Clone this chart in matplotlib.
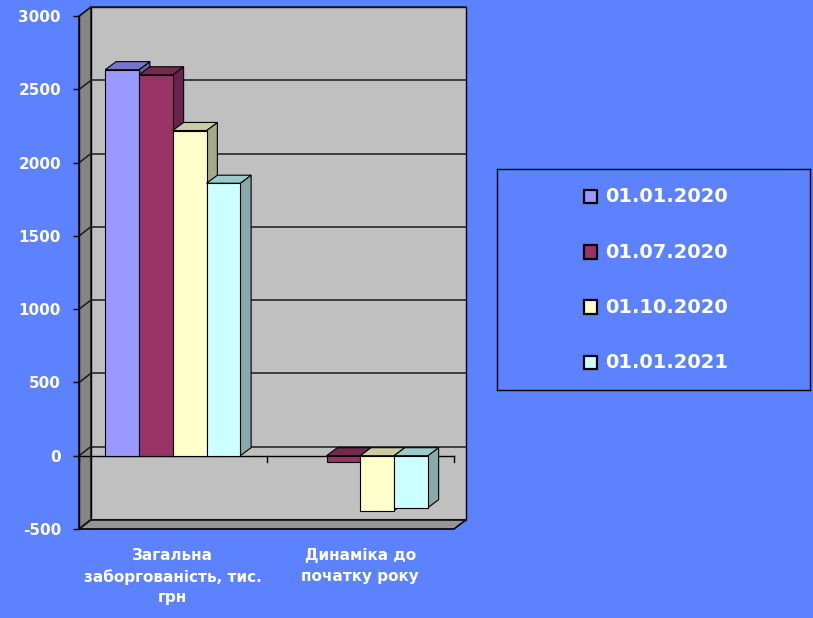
import matplotlib.pyplot as plt
from matplotlib.patches import Polygon
import numpy as np

# categories and series
categories = ['Загальна\nзаборгованість, тис.\nгрн', 'Динаміка до\nпочатку року']
dates = ['01.01.2020', '01.07.2020', '01.10.2020', '01.01.2021']
total_debt = [2635, 2600, 2220, 1860]
change_from_start = [0, -40, -375, -355]
y_ticks = [-500, 0, 500, 1000, 1500, 2000, 2500, 3000]

front_colors = ['#9999FF', '#993366', '#FFFFCC', '#CCFFFF']
top_colors = ['#7575CC', '#772850', '#CCCCA3', '#99CCCC']
side_colors = ['#6666AA', '#66224A', '#A8A88A', '#88AAAA']

bg = '#5C82FF'
plt.rcParams['font.family'] = 'DejaVu Sans'
plt.rcParams['font.weight'] = 'bold'
plt.rcParams['axes.unicode_minus'] = False

# oblique depth of the walls and of the columns, in data units
WDX, WDY = 0.064, 63
BDX, BDY = 0.058, 55
bar_w = 0.18
ymin, ymax = -500, 3000

fig = plt.figure(figsize=(8.13, 6.18), dpi=100, facecolor=bg)
W, H = 813, 618
ax = fig.add_axes([79 / W, 1 - 529 / H, 387 / W, 522.0 / H])
ax.set_facecolor('none')
ax.set_xlim(-0.5, 1.5 + WDX)
ax.set_ylim(ymin, ymax + WDY)

x0, x1 = -0.5, 1.5
# back wall, side wall, floor
ax.add_patch(Polygon([(x0 + WDX, ymin + WDY), (x1 + WDX, ymin + WDY),
                      (x1 + WDX, ymax + WDY), (x0 + WDX, ymax + WDY)],
                     closed=True, fc='#C0C0C0', ec='black', lw=1.0, zorder=0.5, clip_on=False))
ax.add_patch(Polygon([(x0, ymin), (x0, ymax), (x0 + WDX, ymax + WDY), (x0 + WDX, ymin + WDY)],
                     closed=True, fc='#858585', ec='black', lw=1.0, zorder=0.6, clip_on=False))
ax.add_patch(Polygon([(x0, ymin), (x1, ymin), (x1 + WDX, ymin + WDY), (x0 + WDX, ymin + WDY)],
                     closed=True, fc='#969696', ec='black', lw=1.2, zorder=0.7, clip_on=False))

# gridlines on back wall and side wall
for v in y_ticks:
    ax.plot([x0 + WDX, x1 + WDX], [v + WDY, v + WDY], color='#1a1a1a', lw=1.1, zorder=1, clip_on=False)
    ax.plot([x0, x0 + WDX], [v, v + WDY], color='#1a1a1a', lw=1.1, zorder=1, clip_on=False)

# category axis at zero
tick_len = 45
ax.plot([x0, x1], [0, 0], color='black', lw=1.0, zorder=1.2)
for xt in [-0.5, 0.5, 1.5]:
    ax.plot([xt, xt], [0, -tick_len], color='black', lw=1.0, zorder=1.2, clip_on=False)

series = [[total_debt[j], change_from_start[j]] for j in range(len(dates))]

z = 2.0
for ci in range(len(categories)):
    for j in range(len(dates)):
        v = series[j][ci]
        if v == 0:
            continue
        left = ci - 2 * bar_w + j * bar_w
        top = max(v, 0)
        bot = min(v, 0)
        right = left + bar_w
        ax.add_patch(Polygon([(right, bot), (right, top), (right + BDX, top + BDY), (right + BDX, bot + BDY)],
                             closed=True, fc=side_colors[j], ec='black', lw=0.8, zorder=z))
        ax.add_patch(Polygon([(left, top), (right, top), (right + BDX, top + BDY), (left + BDX, top + BDY)],
                             closed=True, fc=top_colors[j], ec='black', lw=0.8, zorder=z + 0.01))
        ax.bar(left, v, width=bar_w, align='edge', color=front_colors[j], edgecolor='black',
               lw=0.8, zorder=z + 0.02)
        z += 0.1

for s in ['top', 'right', 'bottom']:
    ax.spines[s].set_visible(False)
ax.spines['left'].set_bounds(ymin, ymax)
ax.spines['left'].set_linewidth(1.0)
ax.spines['left'].set_zorder(1.5)

ax.set_yticks(y_ticks)
ax.tick_params(axis='y', length=4.3, width=1.0, pad=8.7, labelcolor='white', labelsize=11)
ax.set_xticks([0, 1], categories)
ax.tick_params(axis='x', length=0, pad=14, labelcolor='white', labelsize=11)
for lbl in ax.get_xticklabels():
    lbl.set_linespacing(1.45)

# legend box
lax = fig.add_axes([497 / W, 1 - 390 / H, 313 / W, 221 / H])
lax.set_facecolor(bg)
lax.set_xlim(0, 313)
lax.set_ylim(221, 0)
lax.set_xticks([])
lax.set_yticks([])
for s in lax.spines.values():
    s.set_color('black')
    s.set_linewidth(1.0)
for j, d in enumerate(dates):
    yc = 27.7 + j * 55.3
    lax.add_patch(plt.Rectangle((86.5, yc - 7), 13.5, 13.5, fc=front_colors[j], ec='black', lw=1.6))
    lax.text(108, yc, d, color='white', fontsize=14, fontweight='bold', va='center', ha='left')

fig.savefig('out.png', dpi=100, facecolor=bg)
